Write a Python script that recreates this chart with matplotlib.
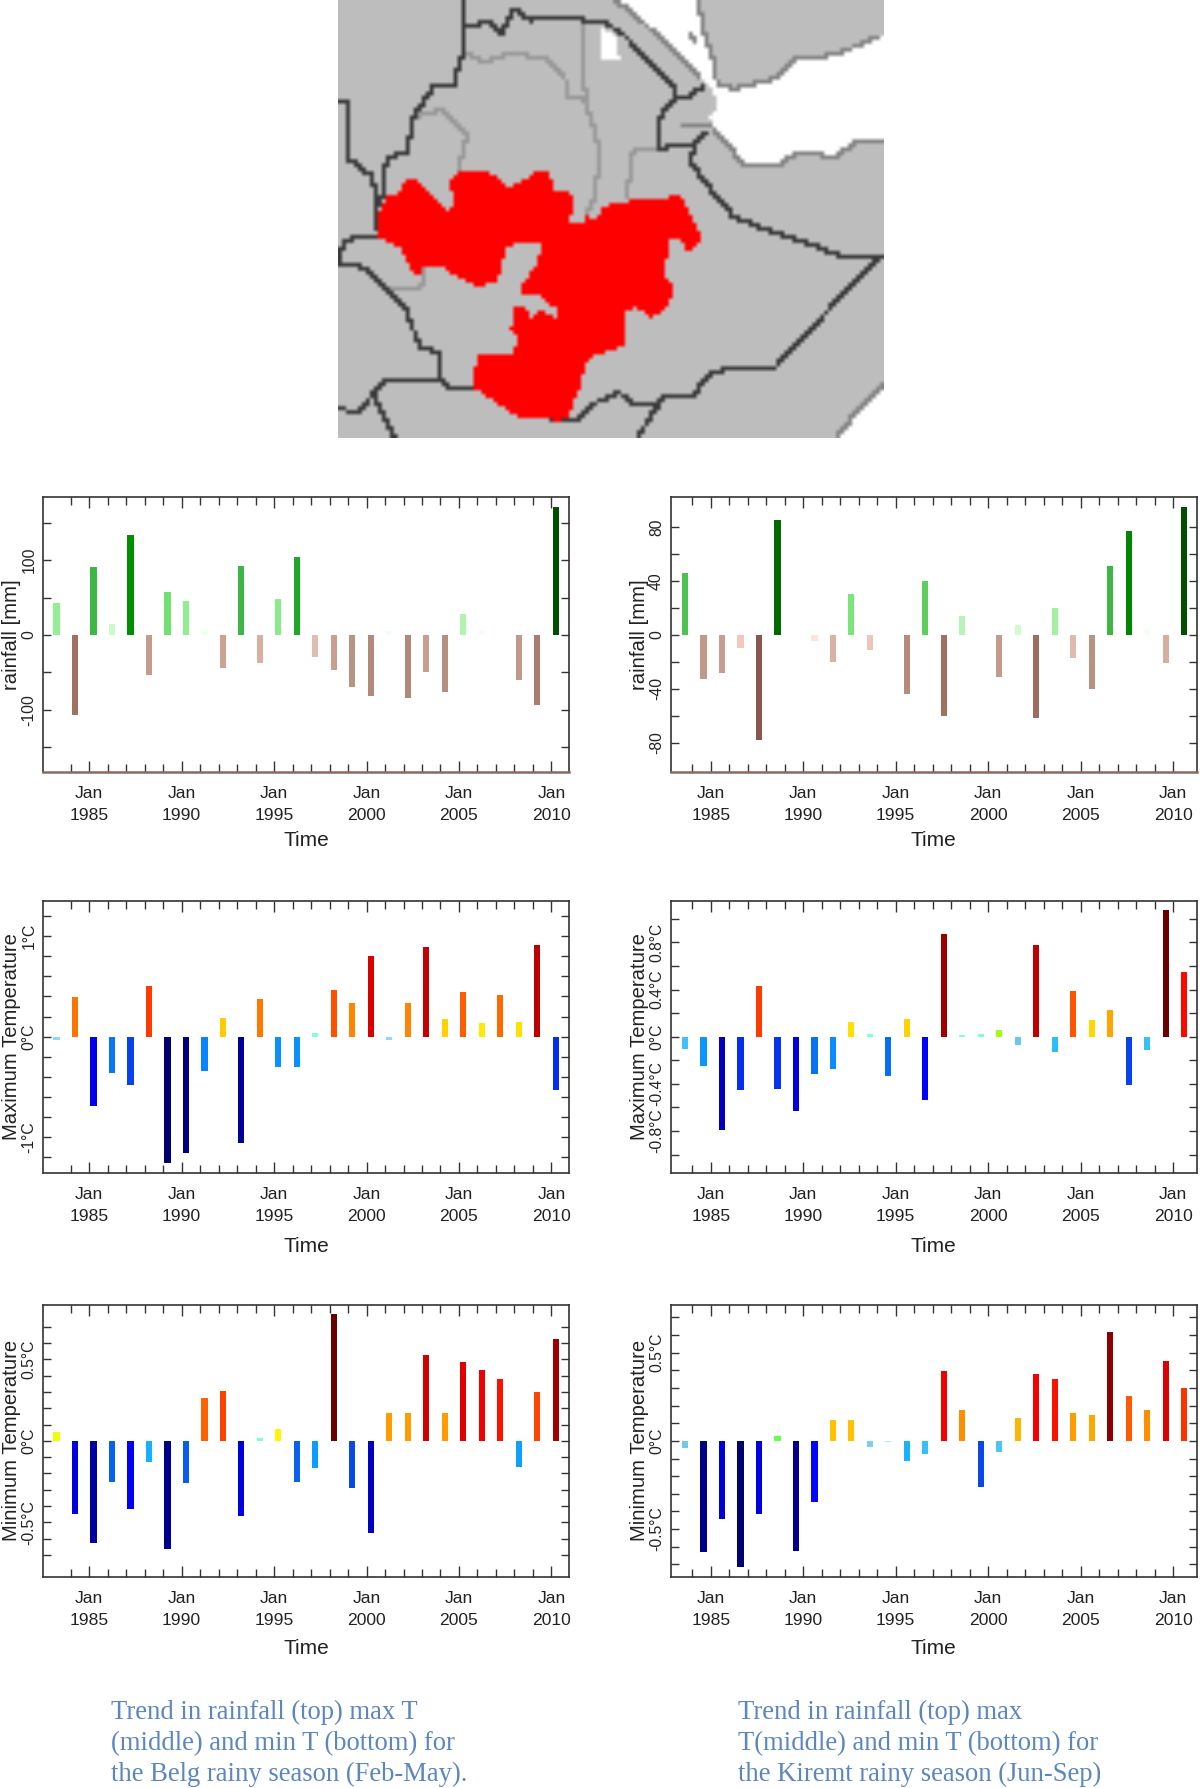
import numpy as np
import matplotlib
matplotlib.use('Agg')
import matplotlib.pyplot as plt
from matplotlib.colors import LinearSegmentedColormap
from matplotlib.path import Path

plt.rcParams['font.family'] = ['Liberation Sans', 'DejaVu Sans']

years = list(range(1983, 2011))
jan_years = [1985, 1990, 1995, 2000, 2005, 2010]

rain_belg = [43, -107, 91, 15, 134, -53, 58, 45, 7, -44, 92, -37, 48, 104, -30, -47, -70, -82, 6, -84,
             -50, -76, 28, 6, 0, -60, -94, 171]
rain_kiremt = [45.5, -32.7, -28, -10, -78, 85, 0, -4.5, -20, 30, -11, 0, -44, 40, -60, 14, 0, -31, 7.5, -62,
               20, -17.5, -40, 51, 77, 3.5, -21, 95]
tmax_belg = [-0.035, 0.39, -0.69, -0.365, -0.477, 0.503, -1.258, -1.156, -0.338, 0.185, -1.056, 0.377, -0.30,
             -0.30, 0.036, 0.464, 0.338, 0.805, -0.036, 0.338, 0.894, 0.175, 0.44, 0.136, 0.414, 0.15, 0.907, -0.526]
tmax_kiremt = [-0.107, -0.246, -0.79, -0.45, 0.43, -0.44, -0.63, -0.32, -0.27, 0.127, 0.023, -0.33, 0.15, -0.537,
               0.87, 0.014, 0.023, 0.054, -0.074, 0.775, -0.127, 0.387, 0.139, 0.226, -0.407, -0.116, 1.074, 0.548]
tmin_belg = [0.055, -0.449, -0.627, -0.253, -0.416, -0.129, -0.663, -0.261, 0.265, 0.304, -0.463, 0.016, 0.071,
             -0.253, -0.169, 0.778, -0.286, -0.565, 0.171, 0.171, 0.529, 0.171, 0.482, 0.437, 0.382, -0.161, 0.298, 0.622]
tmin_kiremt = [-0.042, -0.63, -0.443, -0.715, -0.415, 0.03, -0.623, -0.349, 0.117, 0.117, -0.034, -0.005, -0.113,
               -0.077, 0.396, 0.174, -0.264, -0.062, 0.13, 0.381, 0.353, 0.158, 0.145, 0.619, 0.253, 0.174, 0.453, 0.302]

caption_left = "Trend in rainfall (top) max T\n(middle) and min T (bottom) for\nthe Belg rainy season (Feb-May)."
caption_right = "Trend in rainfall (top) max\nT(middle) and min T (bottom) for\nthe Kiremt rainy season (Jun-Sep)"

# map outlines
red_area = [(135, 640), (165, 585), (190, 580), (205, 545), (240, 540), (270, 565), (300, 600), (330, 635), (345, 610),
            (335, 545), (365, 515), (435, 515), (470, 535), (500, 560), (540, 545), (570, 515), (615, 510), (625, 570),
            (670, 570), (685, 625), (670, 650), (672, 672), (708, 672), (712, 645), (740, 660), (770, 620), (800, 605),
            (940, 600), (965, 580), (985, 585), (1005, 640), (1025, 670), (1038, 715), (1015, 755), (995, 755), (985, 715),
            (955, 715), (945, 760), (935, 830), (965, 850), (965, 880), (945, 920), (900, 955), (860, 925), (830, 930),
            (830, 1030), (790, 1055), (735, 1065), (715, 1100), (700, 1160), (670, 1250), (640, 1262), (530, 1255),
            (480, 1220), (395, 1160), (415, 1070), (515, 1060), (525, 1010), (507, 995), (510, 922), (550, 925), (560, 960),
            (580, 935), (615, 940), (632, 960), (635, 925), (600, 910), (590, 880), (535, 880), (535, 855), (570, 810),
            (585, 770), (590, 735), (550, 730), (490, 740), (480, 810), (465, 850), (410, 860), (340, 825), (315, 795),
            (265, 795), (245, 835), (215, 790), (200, 745), (135, 710)]
sea_areas = [[(800, 0), (870, 60), (960, 150), (1030, 230), (1070, 270), (1080, 300), (1090, 320), (1065, 350), (1075, 390),
              (1110, 430), (1160, 495), (1255, 495), (1310, 460), (1420, 470), (1480, 420), (1560, 430), (1560, 110),
              (1530, 110), (1420, 165), (1310, 175), (1250, 235), (1180, 255), (1130, 265), (1085, 255), (1075, 180),
              (1050, 100), (1030, 0)],
             [(755, 75), (800, 110), (812, 180), (762, 180)],
             [(1560, 1145), (1490, 1215), (1420, 1311), (1420, 1320), (1560, 1320)]]
coast_lines = [[(800, 0), (870, 60), (960, 150), (1030, 230)], [(1030, 0), (1050, 100), (1075, 180), (1085, 255), (1130, 265),
               (1180, 255), (1250, 235), (1310, 175), (1420, 165), (1530, 110)], [(1075, 390), (1110, 430), (1160, 495), (1255, 495),
               (1310, 460), (1420, 470), (1480, 420), (1552, 430)], [(1552, 1150), (1490, 1215), (1425, 1305)],
               [(988, 378), (1064, 378)], [(1012, 105), (1025, 120)]]
light_lines = [[(372, 155), (430, 185), (510, 160), (600, 175), (660, 240), (660, 295), (710, 295), (745, 400), (755, 470),
                (740, 600), (715, 640)], [(710, 70), (715, 295)], [(240, 350), (310, 330), (385, 405), (360, 510)],
               [(830, 590), (850, 450), (920, 445)], [(150, 870), (255, 870), (265, 795)]]
dark_lines = [[(372, 0), (378, 80), (445, 65), (480, 100), (515, 25), (560, 60), (620, 50), (760, 65), (820, 100), (880, 170),
               (970, 265), (970, 295), (1010, 290), (1048, 255)],
              [(970, 295), (925, 350), (918, 445), (1020, 435), (1060, 395)],
              [(1020, 435), (1010, 485), (1060, 560), (1130, 650), (1220, 690), (1350, 735), (1450, 775), (1552, 775)],
              [(1530, 780), (1380, 950), (1250, 1100), (1120, 1105), (1060, 1125), (1020, 1185), (940, 1190), (920, 1215),
               (850, 1210), (810, 1180), (730, 1215), (695, 1265), (625, 1265)],
              [(920, 1215), (860, 1315)],
              [(378, 80), (372, 155), (345, 255), (290, 260), (235, 350), (215, 460), (160, 470), (145, 590), (130, 630),
               (135, 710), (40, 720), (25, 790), (100, 805), (210, 920), (250, 1040), (305, 1060), (310, 1135), (330, 1160), (395, 1160)],
              [(22, 310), (45, 310), (45, 470), (120, 530), (130, 630)],
              [(310, 1140), (150, 1145), (120, 1185), (75, 1240), (22, 1225)],
              [(120, 1185), (180, 1315)]]

green_cmap = LinearSegmentedColormap.from_list('g', [(0, '#ffffff'), (0.04, '#f0fff0'), (0.09, '#c8f8c8'), (0.26, '#90ee90'),
                                                     (0.34, '#70e070'), (0.53, '#40b848'), (0.6, '#20a828'), (0.78, '#009000'),
                                                     (0.89, '#006c00'), (1, '#005000')])
brown_cmap = LinearSegmentedColormap.from_list('b', [(0, '#ffeee8'), (0.05, '#fbe4dc'), (0.1, '#f0c8bc'), (0.18, '#e0bcb0'),
                                                     (0.26, '#cca090'), (0.41, '#b89484'), (0.49, '#b08878'), (0.63, '#a07060'),
                                                     (0.82, '#885850'), (1, '#704030')])
warm_cmap = LinearSegmentedColormap.from_list('w', [(0, '#80ffe0'), (0.03, '#80ffd0'), (0.042, '#60ff20'), (0.05, '#c8ff00'),
                                                    (0.08, '#ffff00'), (0.15, '#ffc800'), (0.24, '#ff9000'), (0.32, '#ff7000'),
                                                    (0.40, '#ff3c00'), (0.53, '#f80000'), (0.68, '#d00000'), (0.8, '#a00000'),
                                                    (1, '#680000')])
cold_cmap = LinearSegmentedColormap.from_list('c', [(0, '#a8e8f8'), (0.06, '#70c8f0'), (0.11, '#30c0f8'), (0.17, '#10b0ff'),
                                                    (0.26, '#0888ff'), (0.37, '#0848e8'), (0.5, '#0000ff'), (0.58, '#0000e0'),
                                                    (0.73, '#0000c0'), (0.85, '#000090'), (1, '#000070')])

W, H = 1200, 1788
fig = plt.figure(figsize=(W / 100, H / 100), dpi=100)


def px_axes(left, right, top, bottom):
    return fig.add_axes([left / W, 1 - bottom / H, (right - left) / W, (bottom - top) / H])


def draw_map():
    ax = px_axes(338, 884, 0, 438)
    x0, x1, y0, y1 = 22, 1552, 0, 1315
    nx, ny = 137, 110
    cx = x0 + (np.arange(nx) + 0.5) * (x1 - x0) / nx
    cy = y0 + (np.arange(ny) + 0.5) * (y1 - y0) / ny
    gx, gy = np.meshgrid(cx, cy)
    pts = np.column_stack([gx.ravel(), gy.ravel()])
    img = np.full((ny, nx, 3), 0.745)

    for sea in sea_areas:
        img[Path(sea).contains_points(pts).reshape(ny, nx)] = 1.0

    def burn(lines, shade):
        for line in lines:
            for (xa, ya), (xb, yb) in zip(line[:-1], line[1:]):
                for t in np.linspace(0, 1, 80):
                    i = int((ya + (yb - ya) * t - y0) / (y1 - y0) * ny)
                    j = int((xa + (xb - xa) * t - x0) / (x1 - x0) * nx)
                    if 0 <= i < ny and 0 <= j < nx:
                        img[i, j] = shade

    burn(coast_lines, 0.52)
    burn(light_lines, 0.6)
    burn(dark_lines, 0.23)
    img[Path(red_area).contains_points(pts).reshape(ny, nx)] = (1, 0, 0)

    ax.imshow(img, extent=(x0, x1, y1, y0), aspect='auto', interpolation='bilinear')
    ax.axis('off')


def draw_panel(left, top, bottom, values, x_offset, xlim, ylim, yticks, ylabels, yminor, ylabel, time_gap, rain=False):
    right = left + 525.7
    ax = px_axes(left, right, top, bottom)
    x = np.array(years) + x_offset
    vals = np.array(values, dtype=float)
    scale = max(vals.max(), -vals.min())
    if rain:
        colors = [green_cmap(v / scale) if v >= 0 else brown_cmap(-v / scale) for v in vals]
    else:
        colors = [warm_cmap(v / scale) if v >= 0 else cold_cmap(-v / scale) for v in vals]
    ax.bar(x, vals, width=0.34, color=colors, linewidth=0)

    ax.set_xlim(*xlim)
    ax.set_ylim(*ylim)
    ax.set_xticks(jan_years)
    ax.set_xticklabels(['Jan\n%d' % y for y in jan_years], fontsize=12.6, color='#222222', linespacing=1.54)
    ax.set_xticks([y for y in range(1984, 2011) if y not in jan_years], minor=True)
    ax.set_yticks(yticks)
    ax.set_yticklabels(ylabels, fontsize=11.3, rotation=90, va='center', color='#222222')
    ax.set_yticks(yminor, minor=True)
    ax.tick_params(axis='x', which='major', direction='in', top=True, length=8, width=1, color='#333333', pad=10.5)
    ax.tick_params(axis='x', which='minor', direction='in', top=True, length=5.5, width=1, color='#333333')
    ax.tick_params(axis='y', which='both', direction='in', right=True, length=6, width=1, color='#333333', pad=5)
    for spine in ax.spines.values():
        spine.set_linewidth(1.2)
        spine.set_color('#333333')
    if rain:
        ax.spines['bottom'].set_color('#8a6a5f')
        ax.spines['bottom'].set_linewidth(1.8)
    ax.set_xlabel('Time', fontsize=15, color='#222222')
    ax.xaxis.set_label_coords(0.5, -time_gap / (bottom - top), transform=ax.transAxes)
    ax.xaxis.label.set_va('center')
    ax.set_ylabel(ylabel, fontsize=14.6, color='#222222')
    ax.yaxis.set_label_coords(-31.8 / 525.7, 0.5, transform=ax.transAxes)
    ax.yaxis.label.set_va('center')


draw_map()

belg_xlim = (1982.52, 2010.95)
kiremt_xlim = (1982.85, 2011.27)
lefts = (43.3, 671)

draw_panel(lefts[0], 497.3, 771.7, rain_belg, 0.23, belg_xlim, (-182.6, 184),
           [-100, 0, 100], ['-100', '0', '100'], [-150, -50, 50, 150], 'rainfall [mm]', 69, rain=True)
draw_panel(lefts[1], 497.3, 771.7, rain_kiremt, 0.6, kiremt_xlim, (-101.5, 102),
           [-80, -40, 0, 40, 80], ['-80', '-40', '0', '40', '80'], [-60, -20, 20, 60], 'rainfall [mm]', 69, rain=True)
draw_panel(lefts[0], 900.7, 1172.7, tmax_belg, 0.23, belg_xlim, (-1.351, 1.351),
           [-1, 0, 1], ['-1°C', '0°C', '1°C'], [-1.2, -0.8, -0.6, -0.4, -0.2, 0.2, 0.4, 0.6, 0.8, 1.2], 'Maximum Temperature', 74)
draw_panel(lefts[1], 900.7, 1172.7, tmax_kiremt, 0.6, kiremt_xlim, (-1.153, 1.153),
           [-0.8, -0.4, 0, 0.4, 0.8], ['-0.8°C', '-0.4°C', '0°C', '0.4°C', '0.8°C'], [-1, -0.6, -0.2, 0.2, 0.6, 1], 'Maximum Temperature', 74)
draw_panel(lefts[0], 1304.7, 1576.7, tmin_belg, 0.23, belg_xlim, (-0.833, 0.835),
           [-0.5, 0, 0.5], ['-0.5°C', '0°C', '0.5°C'], [-0.7, -0.6, -0.4, -0.3, -0.2, -0.1, 0.1, 0.2, 0.3, 0.4, 0.6, 0.7], 'Minimum Temperature', 71.5)
draw_panel(lefts[1], 1304.7, 1576.7, tmin_kiremt, 0.6, kiremt_xlim, (-0.77, 0.772),
           [-0.5, 0, 0.5], ['-0.5°C', '0°C', '0.5°C'], [-0.7, -0.6, -0.4, -0.3, -0.2, -0.1, 0.1, 0.2, 0.3, 0.4, 0.6, 0.7], 'Minimum Temperature', 71.5)

for cap, x in ((caption_left, 110.6), (caption_right, 738)):
    fig.text(x / W, 1 - 1743.5 / H, cap, family=['Liberation Serif', 'DejaVu Serif'], fontsize=19.2,
             color='#5b86c0', va='center', ha='left', linespacing=1.33)

fig.savefig('out.png', dpi=100)
